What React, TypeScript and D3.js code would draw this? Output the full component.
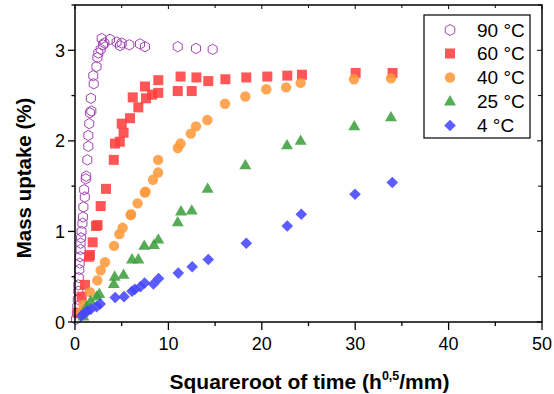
import React from "react";
import * as d3 from "d3";

const seriesNames = ["90 °C", "60 °C", "40 °C", "25 °C", "4 °C"];
const seriesColors = ["#a344b4", "#ff4040", "#ff9a3c", "#3f9f3f", "#4646ff"];
const seriesShapes = ["hexagon", "square", "circle", "triangle", "diamond"];

const data90: [number, number][] = [
  [0.1, 0.03], [0.2, 0.1], [0.25, 0.17], [0.3, 0.25], [0.35, 0.34], [0.35, 0.41], [0.4, 0.49],
  [0.46, 0.58], [0.5, 0.65], [0.55, 0.72], [0.6, 0.8], [0.6, 0.87], [0.65, 0.93], [0.7, 1.0],
  [0.8, 1.09], [0.85, 1.16], [0.9, 1.27], [1.05, 1.38], [0.98, 1.46], [1.15, 1.58], [1.2, 1.61],
  [1.32, 1.79], [1.43, 1.94], [1.43, 2.06], [1.53, 2.19], [1.6, 2.31], [1.75, 2.33], [1.7, 2.47],
  [2.0, 2.63], [1.96, 2.72], [2.3, 2.82], [2.4, 2.92], [2.5, 2.97], [2.75, 3.01], [3.0, 3.06],
  [2.86, 3.13], [3.14, 3.08], [3.75, 3.12], [4.46, 3.09], [5.0, 3.08], [4.82, 3.05], [5.82, 3.06],
  [6.96, 3.07], [7.49, 3.04], [11.0, 3.04], [12.96, 3.02], [14.74, 3.01],
];
const data60: [number, number][] = [
  [0.3, 0.1], [0.71, 0.28], [1.07, 0.41], [1.6, 0.74], [1.5, 0.72], [1.89, 0.88], [2.25, 1.06],
  [2.42, 1.07], [2.75, 1.28], [3.32, 1.47], [4.15, 1.79], [4.28, 1.97], [4.8, 1.99], [5.2, 2.09],
  [5.0, 2.19], [5.89, 2.25], [6.78, 2.37], [6.18, 2.48], [7.6, 2.47], [8.25, 2.51], [8.92, 2.53],
  [7.49, 2.6], [8.92, 2.67], [11.0, 2.55], [12.5, 2.55], [11.3, 2.71], [13.0, 2.7], [14.27, 2.66],
  [16.1, 2.68], [18.34, 2.7], [20.59, 2.71], [22.73, 2.72], [24.3, 2.73], [30.05, 2.75], [34.0, 2.75],
];
const data40: [number, number][] = [
  [0.5, 0.1], [0.9, 0.19], [1.6, 0.33], [2.39, 0.46], [2.75, 0.57], [3.21, 0.66], [4.18, 0.84],
  [4.75, 0.97], [5.1, 1.04], [5.96, 1.18], [6.0, 1.19], [6.7, 1.31], [7.49, 1.43], [7.55, 1.44],
  [8.35, 1.57], [8.9, 1.65], [8.9, 1.79], [11.0, 1.92], [11.3, 1.97], [12.4, 2.08], [12.96, 2.16],
  [14.17, 2.23], [16.06, 2.41], [18.24, 2.49], [20.48, 2.57], [22.6, 2.59], [24.16, 2.64],
  [29.87, 2.68], [33.83, 2.69],
];
const data25: [number, number][] = [
  [0.9, 0.06], [1.25, 0.17], [1.68, 0.23], [2.32, 0.28], [2.6, 0.31], [4.15, 0.42], [4.25, 0.5],
  [5.2, 0.52], [6.1, 0.69], [6.78, 0.69], [7.42, 0.84], [8.45, 0.85], [8.92, 0.91], [11.0, 1.1],
  [11.35, 1.22], [12.5, 1.23], [14.2, 1.47], [18.24, 1.73], [22.7, 1.95], [24.16, 2.0],
  [29.9, 2.16], [33.83, 2.26],
];
const data4: [number, number][] = [
  [0.7, 0.07], [1.07, 0.1], [1.3, 0.12], [1.7, 0.14], [2.32, 0.17], [2.7, 0.2], [4.3, 0.27],
  [5.25, 0.28], [6.1, 0.34], [6.4, 0.36], [7.0, 0.39], [7.45, 0.43], [8.4, 0.42], [8.95, 0.48],
  [11.06, 0.54], [12.55, 0.61], [14.27, 0.69], [18.34, 0.87], [22.73, 1.06], [24.23, 1.19],
  [29.98, 1.41], [33.97, 1.54],
];
const allSeries = [data90, data60, data40, data25, data4];

const xTicks = [0, 10, 20, 30, 40, 50];
const xMinorTicks = [5, 15, 25, 35, 45];
const yTicks = [0, 1, 2, 3];
const yMinorTicks = [0.5, 1.5, 2.5, 3.5];

const W = 554, H = 394;
const M = { left: 75, right: 12, top: 5, bottom: 72 };
const FONT = "'Liberation Sans', Arial, sans-serif";

function marker(shape: string, color: string, x: number, y: number, key: string | number, legend = false) {
  const op = 0.88;
  if (shape === "hexagon") {
    const r = legend ? 5.5 : 5.2;
    const pts = d3.range(6).map((i) => {
      const a = (Math.PI / 3) * i + Math.PI / 6;
      return [x + r * Math.cos(a), y + r * Math.sin(a)];
    });
    return <polygon key={key} points={pts.map((p) => p.join(",")).join(" ")} fill="none" stroke={color} strokeWidth={1} />;
  }
  if (shape === "square") {
    const s = 10;
    return <rect key={key} x={x - s / 2} y={y - s / 2} width={s} height={s} fill={color} fillOpacity={op} />;
  }
  if (shape === "circle") {
    return <circle key={key} cx={x} cy={y} r={5.2} fill={color} fillOpacity={op} />;
  }
  if (shape === "triangle") {
    const s = d3.symbol(d3.symbolTriangle, 62)();
    return <path key={key} d={s || ""} transform={`translate(${x},${y + 0.5})`} fill={color} fillOpacity={op} />;
  }
  const r = 5.8;
  return (
    <polygon key={key} points={`${x},${y - r} ${x + r},${y} ${x},${y + r} ${x - r},${y}`} fill={color} fillOpacity={op} />
  );
}

export default function App() {
  const x = d3.scaleLinear().domain([0, 50]).range([M.left, W - M.right]);
  const y = d3.scaleLinear().domain([0, 3.5]).range([H - M.bottom, M.top]);
  const x0 = x.range()[0], x1 = x.range()[1];
  const y0 = y.range()[0], y1 = y.range()[1];

  const legendRows = [30, 53.5, 77.5, 101.5, 125.5];

  return (
    <svg width={W} height={H} style={{ position: "absolute", left: 0, top: 0 }} fontFamily={FONT}>
      <rect width={W} height={H} fill="white" />
      {allSeries.map((ser, si) =>
        ser.map((d, i) => marker(seriesShapes[si], seriesColors[si], x(d[0]), y(d[1]), `${si}-${i}`))
      )}
      {/* frame */}
      <rect x={x0} y={y1} width={x1 - x0} height={y0 - y1} fill="none" stroke="black" strokeWidth={1.5} />
      {/* bottom ticks */}
      {xTicks.map((t) => (
        <g key={"xt" + t}>
          <line x1={x(t)} x2={x(t)} y1={y0} y2={y0 + 8} stroke="black" strokeWidth={1.3} />
          <line x1={x(t)} x2={x(t)} y1={y1} y2={y1 + 4} stroke="black" strokeWidth={1} />
          <text x={x(t)} y={y0 + 28} textAnchor="middle" fontSize={18} fill="black">{t}</text>
        </g>
      ))}
      {xMinorTicks.map((t) => (
        <g key={"xm" + t}>
          <line x1={x(t)} x2={x(t)} y1={y0} y2={y0 + 4} stroke="black" strokeWidth={1.3} />
          <line x1={x(t)} x2={x(t)} y1={y1} y2={y1 + 3} stroke="black" strokeWidth={1} />
        </g>
      ))}
      {yTicks.map((t) => (
        <g key={"yt" + t}>
          <line x1={x0} x2={x0 - 7} y1={y(t)} y2={y(t)} stroke="black" strokeWidth={1.3} />
          <line x1={x1} x2={x1 - 5} y1={y(t)} y2={y(t)} stroke="black" strokeWidth={1} />
          <text x={x0 - 10} y={y(t) + 6.5} textAnchor="end" fontSize={18} fill="black">{t}</text>
        </g>
      ))}
      {yMinorTicks.map((t) => (
        <g key={"ym" + t}>
          <line x1={x0} x2={x0 - 3.5} y1={y(t)} y2={y(t)} stroke="black" strokeWidth={1.3} />
          <line x1={x1} x2={x1 - 4} y1={y(t)} y2={y(t)} stroke="black" strokeWidth={1} />
        </g>
      ))}
      {/* axis titles */}
      <text x={(x0 + x1) / 2 + 1} y={389} textAnchor="middle" fontSize={21} fontWeight="bold" fill="black">
        Squareroot of time (h
        <tspan fontSize={12.5} dy={-9}>0,5</tspan>
        <tspan dy={9}>/mm)</tspan>
      </text>
      <text transform={`translate(31,178) rotate(-90)`} textAnchor="middle" fontSize={20.5} fontWeight="bold" fill="black">
        Mass uptake (%)
      </text>
      {/* legend */}
      <rect x={424} y={15} width={106} height={123} fill="white" stroke="black" strokeWidth={1.2} />
      {seriesNames.map((n, i) => (
        <g key={"lg" + i}>
          {marker(seriesShapes[i], seriesColors[i], 450, legendRows[i], "lm" + i, true)}
          <text x={477} y={legendRows[i] + 6.5} fontSize={19} fill="black">{n}</text>
        </g>
      ))}
    </svg>
  );
}
